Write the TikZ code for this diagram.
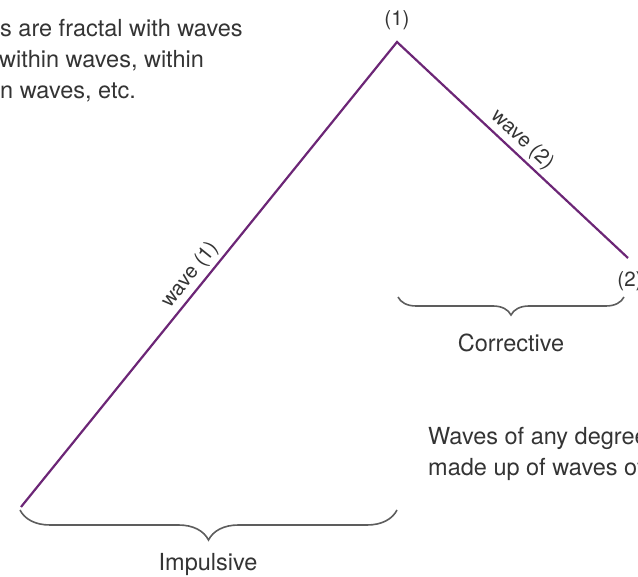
\documentclass[tikz,border=0pt]{standalone}
\usepackage{fontspec}
\setmainfont{TeX Gyre Heros}
\usetikzlibrary{decorations.pathreplacing}
\definecolor{wavepurple}{RGB}{108,38,118}
\definecolor{textgrey}{RGB}{52,52,52}
\begin{document}
\begin{tikzpicture}[x=1pt,y=-1pt,
  wave/.style={wavepurple,line width=2.2pt,line join=miter},
  bracebox/.style={decorate,decoration={brace,amplitude=#1},textgrey!80,line width=1.6pt},
  txt/.style={textgrey,font=\fontsize{23.5}{28}\selectfont,inner sep=0pt},
  lbl/.style={textgrey,font=\fontsize{20.5}{24}\selectfont}]
\useasboundingbox (0,0) rectangle (638,577);
\clip (0,0) rectangle (638,577);
% --- wave path ---
\coordinate (w0) at (21,507);
\coordinate (w1) at (397,42);
\coordinate (w2) at (628,258);
\draw[wave] (w0) -- node[lbl,sloped,above,pos=0.48] (lw1) {wave (1)}
  (w1) -- node[lbl,sloped,above,pos=0.5] (lw2) {wave (2)} (w2);
\node[lbl] (p1) at (397,20) {(1)};
\node[lbl] (p2) at (630,281) {(2)};
% --- braces ---
\coordinate (i0) at (20,510);
\coordinate (i1) at (397,510);
\draw[bracebox=30] (i1) -- (i0);
\node[txt,anchor=base] (impulsive) at (208,570) {Impulsive};
\coordinate (c0) at (398,297);
\coordinate (c1) at (624,297);
\draw[bracebox=18] (c1) -- (c0);
\node[txt,anchor=base] (corrective) at (511,352) {Corrective};
% --- notes ---
\node[txt,anchor=base west] (fr1) at (0,37) {s are fractal with waves};
\node[txt,anchor=base west] (fr2) at (-1,68) {within waves, within};
\node[txt,anchor=base west] (fr3) at (0,99) {n waves, etc.};
\node[txt,anchor=base west] (deg1) at (428,445) {Waves of any degree};
\node[txt,anchor=base west] (deg2) at (428,476) {made up of waves of};
\end{tikzpicture}
\end{document}
